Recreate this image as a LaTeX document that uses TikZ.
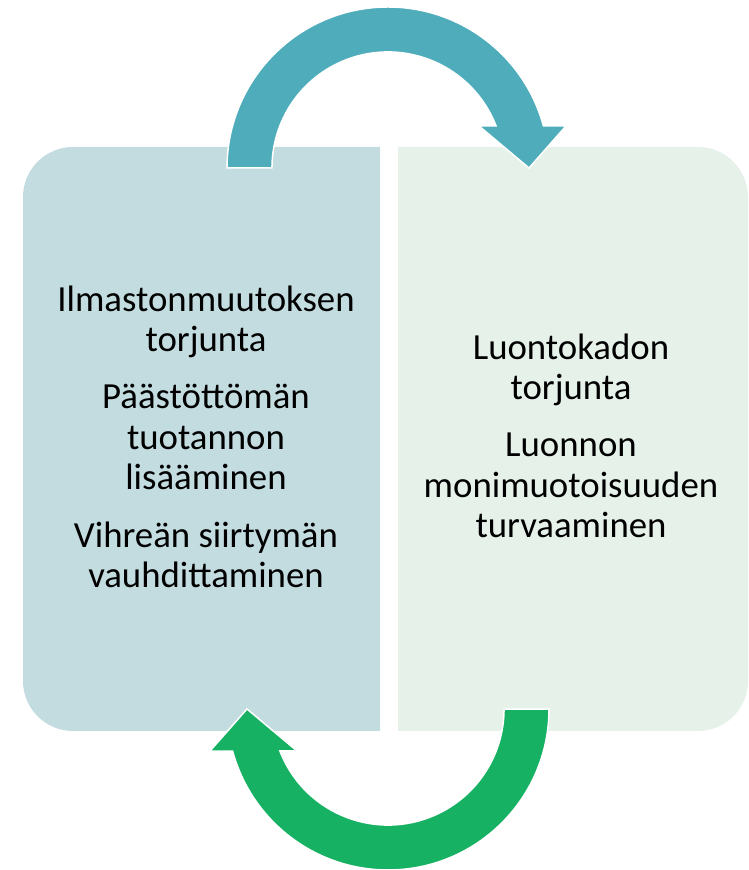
\documentclass[tikz,border=0pt]{standalone}
\usepackage{fontspec}
\setmainfont{Carlito}

\definecolor{vasenpohja}{HTML}{C3DCE0}
\definecolor{oikeapohja}{HTML}{E6F1EA}
\definecolor{sininuoli}{HTML}{4FADBB}
\definecolor{vihreanuoli}{HTML}{17B163}

\tikzset{
  teksti/.style={anchor=base, align=center, inner sep=0pt,
    font=\fontsize{36.8}{40.5}\selectfont},
  kaari/.pic={
    \filldraw[line width=1.5pt, draw=white, #1]
      (-161,0) arc[start angle=180, end angle=15.13, radius=161]
      -- (178,42) -- (141,0) -- (91,42) -- (108.1,42)
      arc[start angle=21.2, end angle=180, radius=116] -- cycle;
  }
}

\begin{document}
\begin{tikzpicture}[x=1pt,y=1pt]
    \useasboundingbox (0,0) rectangle (749,870);

    % laatikot
    \fill[vasenpohja] (380,139) -- (73,139)
      arc[start angle=270, end angle=180, radius=50] -- (23,673)
      arc[start angle=180, end angle=90, radius=50] -- (380,723) -- cycle;
    \fill[oikeapohja] (398,139) -- (698,139)
      arc[start angle=-90, end angle=0, radius=50] -- (748,673)
      arc[start angle=0, end angle=90, radius=50] -- (398,723) -- cycle;

    % tekstit (ankkuri = viimeisen rivin perusviiva)
    \node[teksti] (ilmasto) at (206,518) {Ilmastonmuutoksen\\torjunta};
    \node[teksti] (paastot) at (206,380) {Päästöttömän\\tuotannon\\lisääminen};
    \node[teksti] (vihrea)  at (206,282) {Vihreän siirtymän\\vauhdittaminen};

    \node[teksti] (luontokato) at (571,470) {Luontokadon\\torjunta};
    \node[teksti] (monimuoto)  at (571,332) {Luonnon\\monimuotoisuuden\\turvaaminen};

    % nuolet
    \pic at (388,702) {kaari={fill=sininuoli}};
    \pic[rotate=180] at (388,161) {kaari={fill=vihreanuoli}};

\end{tikzpicture}
\end{document}
